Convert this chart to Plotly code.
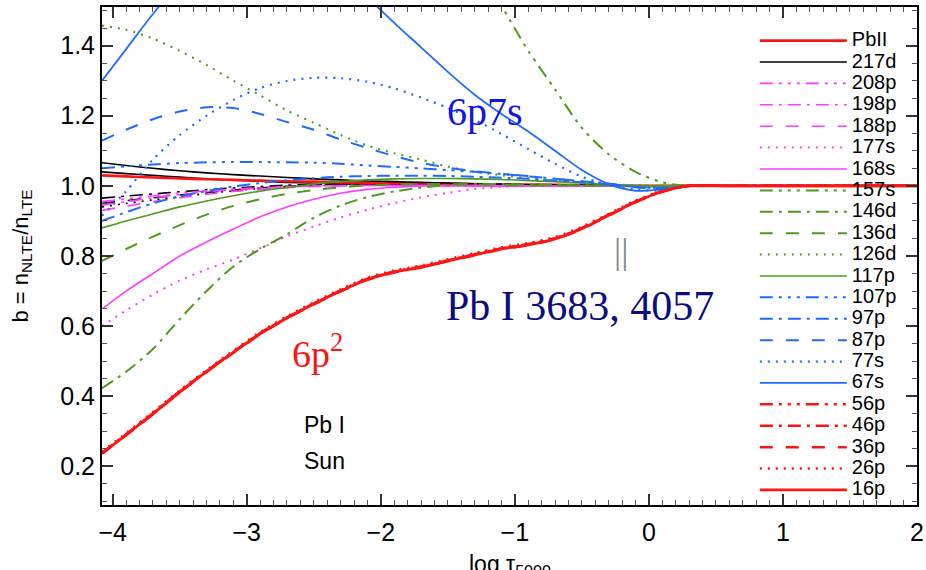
import plotly.graph_objects as go

# log tau grid
X = [-4.08, -3.9, -3.7, -3.5, -3.3, -3.1, -2.9, -2.7, -2.5, -2.3, -2.1, -1.9, -1.7,
     -1.5, -1.3, -1.1, -0.9, -0.7, -0.5, -0.3, -0.1, 0.1, 0.3, 0.6, 1.0, 2.0]

b_PbII = [1.030, 1.027, 1.024, 1.021, 1.019, 1.017, 1.015, 1.013, 1.012, 1.010, 1.009, 1.008, 1.007,
          1.006, 1.005, 1.004, 1.003, 1.003, 1.002, 1.001, 1.000, 1.000, 1.000, 1.000, 1.000, 1.000]
b_217d = [1.066, 1.058, 1.050, 1.043, 1.037, 1.032, 1.028, 1.024, 1.020, 1.017, 1.014, 1.012, 1.010,
          1.008, 1.006, 1.005, 1.004, 1.003, 1.002, 1.001, 1.000, 1.000, 1.000, 1.000, 1.000, 1.000]
b_208p = [0.955, 0.963, 0.972, 0.980, 0.986, 0.991, 0.995, 0.998, 1.000, 1.001, 1.001, 1.001, 1.001,
          1.001, 1.001, 1.000, 1.000, 1.000, 1.000, 1.000, 1.000, 1.000, 1.000, 1.000, 1.000, 1.000]
b_198p = [0.945, 0.955, 0.966, 0.975, 0.983, 0.989, 0.993, 0.997, 0.999, 1.000, 1.001, 1.001, 1.001,
          1.001, 1.000, 1.000, 1.000, 1.000, 1.000, 1.000, 1.000, 1.000, 1.000, 1.000, 1.000, 1.000]
b_188p = [0.930, 0.942, 0.955, 0.966, 0.976, 0.984, 0.990, 0.995, 0.998, 1.000, 1.001, 1.001, 1.001,
          1.000, 1.000, 1.000, 1.000, 1.000, 1.000, 1.000, 1.000, 1.000, 1.000, 1.000, 1.000, 1.000]
b_177s = [0.600, 0.645, 0.690, 0.730, 0.762, 0.790, 0.822, 0.856, 0.884, 0.910, 0.932, 0.951, 0.967,
          0.980, 0.991, 0.997, 1.000, 1.000, 1.000, 1.000, 1.000, 1.000, 1.000, 1.000, 1.000, 1.000]
b_168s = [0.649, 0.700, 0.750, 0.800, 0.840, 0.877, 0.912, 0.940, 0.962, 0.979, 0.990, 0.996, 1.000,
          1.000, 1.000, 1.000, 1.000, 1.000, 1.000, 1.000, 1.000, 1.000, 1.000, 1.000, 1.000, 1.000]
b_157s = [None, None, None, None, None, None, None, None, None, None, None, None, 2.050,
          1.830, 1.660, 1.515, 1.385, 1.275, 1.165, 1.090, 1.040, 1.010, 1.000, 1.000, 1.000, 1.000]
b_146d = [0.423, 0.470, 0.535, 0.620, 0.700, 0.770, 0.820, 0.862, 0.909, 0.944, 0.968, 0.984, 0.995,
          1.002, 1.005, 1.005, 1.004, 1.003, 1.002, 1.001, 1.000, 1.000, 1.000, 1.000, 1.000, 1.000]
b_136d = [0.786, 0.820, 0.855, 0.888, 0.918, 0.943, 0.962, 0.977, 0.988, 0.996, 1.001, 1.004, 1.005,
          1.005, 1.004, 1.003, 1.002, 1.002, 1.001, 1.000, 1.000, 1.000, 1.000, 1.000, 1.000, 1.000]
b_126d = [1.457, 1.445, 1.420, 1.385, 1.345, 1.300, 1.258, 1.215, 1.180, 1.145, 1.115, 1.093, 1.075,
          1.055, 1.040, 1.030, 1.022, 1.015, 1.010, 1.005, 1.002, 1.000, 1.000, 1.000, 1.000, 1.000]
b_117p = [0.880, 0.900, 0.920, 0.940, 0.957, 0.972, 0.985, 0.995, 1.005, 1.012, 1.017, 1.020, 1.021,
          1.021, 1.020, 1.018, 1.015, 1.012, 1.008, 1.004, 1.000, 0.998, 1.000, 1.000, 1.000, 1.000]
b_107p = [1.050, 1.056, 1.061, 1.065, 1.067, 1.068, 1.068, 1.067, 1.066, 1.063, 1.058, 1.054, 1.050,
          1.045, 1.040, 1.034, 1.028, 1.020, 1.013, 1.006, 0.998, 0.994, 1.000, 1.000, 1.000, 1.000]
b_97p = [0.900, 0.925, 0.950, 0.970, 0.985, 0.998, 1.008, 1.016, 1.022, 1.026, 1.028, 1.029, 1.029,
         1.028, 1.026, 1.023, 1.020, 1.015, 1.010, 1.004, 0.997, 0.993, 1.000, 1.000, 1.000, 1.000]
b_87p = [1.129, 1.160, 1.190, 1.212, 1.224, 1.222, 1.205, 1.182, 1.160, 1.132, 1.108, 1.085, 1.066,
         1.052, 1.042, 1.034, 1.027, 1.020, 1.013, 1.006, 0.996, 0.990, 1.000, 1.000, 1.000, 1.000]
b_77s = [0.915, 0.985, 1.075, 1.145, 1.200, 1.245, 1.279, 1.299, 1.308, 1.307, 1.297, 1.278, 1.252,
         1.222, 1.188, 1.148, 1.105, 1.063, 1.026, 1.003, 0.990, 0.987, 1.000, 1.000, 1.000, 1.000]
b_67s = [1.300, 1.390, 1.490, 1.580, 1.660, 1.720, 1.760, 1.770, 1.740, 1.650, 1.540, 1.465, 1.395,
         1.325, 1.260, 1.205, 1.155, 1.100, 1.045, 1.005, 0.986, 0.990, 1.000, 1.000, 1.000, 1.000]
b_56p = [0.238, 0.291, 0.351, 0.413, 0.471, 0.526, 0.579, 0.624, 0.664, 0.701, 0.734, 0.755, 0.769,
         0.787, 0.804, 0.821, 0.833, 0.850, 0.879, 0.917, 0.955, 0.984, 1.000, 1.000, 1.000, 1.000]
b_46p = [0.239, 0.292, 0.352, 0.414, 0.472, 0.527, 0.580, 0.625, 0.665, 0.702, 0.735, 0.756, 0.770,
         0.788, 0.805, 0.822, 0.834, 0.851, 0.880, 0.918, 0.956, 0.985, 1.000, 1.000, 1.000, 1.000]
b_36p = [0.236, 0.289, 0.349, 0.411, 0.469, 0.524, 0.577, 0.622, 0.662, 0.699, 0.732, 0.753, 0.767,
         0.785, 0.802, 0.819, 0.831, 0.848, 0.877, 0.915, 0.953, 0.983, 1.000, 1.000, 1.000, 1.000]
b_26p = [0.242, 0.295, 0.355, 0.417, 0.475, 0.530, 0.583, 0.628, 0.668, 0.705, 0.738, 0.759, 0.773,
         0.791, 0.808, 0.825, 0.837, 0.854, 0.883, 0.920, 0.958, 0.986, 1.000, 1.000, 1.000, 1.000]
b_16p = [0.237, 0.290, 0.350, 0.412, 0.470, 0.525, 0.578, 0.623, 0.663, 0.700, 0.733, 0.754, 0.768,
         0.786, 0.803, 0.820, 0.832, 0.849, 0.878, 0.916, 0.954, 0.984, 1.000, 1.000, 1.000, 1.000]

# higher levels drawn in black without legend entries
b_hi1 = [1.040, 1.035, 1.030, 1.025, 1.020, 1.016, 1.013, 1.010, 1.008, 1.006, 1.005, 1.004, 1.003,
         1.002, 1.002, 1.001, 1.001, 1.000, 1.000, 1.000, 1.000, 1.000, 1.000, 1.000, 1.000, 1.000]
b_hi2 = [0.950, 0.958, 0.966, 0.974, 0.981, 0.988, 0.994, 0.999, 1.003, 1.005, 1.006, 1.006, 1.005,
         1.004, 1.003, 1.002, 1.001, 1.000, 1.000, 1.000, 1.000, 1.000, 1.000, 1.000, 1.000, 1.000]
b_hi3 = [0.965, 0.971, 0.977, 0.983, 0.989, 0.994, 0.998, 1.002, 1.004, 1.005, 1.005, 1.004, 1.003,
         1.002, 1.001, 1.001, 1.000, 1.000, 1.000, 1.000, 1.000, 1.000, 1.000, 1.000, 1.000, 1.000]
b_hi4 = [0.940, 0.950, 0.960, 0.969, 0.978, 0.986, 0.993, 0.998, 1.002, 1.004, 1.005, 1.005, 1.004,
         1.003, 1.002, 1.001, 1.000, 1.000, 1.000, 1.000, 1.000, 1.000, 1.000, 1.000, 1.000, 1.000]

names = ["PbII", "217d", "208p", "198p", "188p", "177s", "168s", "157s", "146d", "136d", "126d",
         "117p", "107p", "97p", "87p", "77s", "67s", "56p", "46p", "36p", "26p", "16p"]
series = [b_PbII, b_217d, b_208p, b_198p, b_188p, b_177s, b_168s, b_157s, b_146d, b_136d, b_126d,
          b_117p, b_107p, b_97p, b_87p, b_77s, b_67s, b_56p, b_46p, b_36p, b_26p, b_16p]

RED, BLACK, MAG, GRN, BLU = "#ff1414", "#000000", "#ff3cff", "#4f9a1c", "#1f6bff"
SOLID = "solid"
DOT = "2px,6px"
DASH = "13px,13px"
DASHDOT = "13px,6px,3px,6px"
DASH3DOT = "13px,6px,3px,6px,3px,6px,3px,6px"

colors = [RED, BLACK, MAG, MAG, MAG, MAG, MAG, GRN, GRN, GRN, GRN, GRN,
          BLU, BLU, BLU, BLU, BLU, RED, RED, RED, RED, RED]
dashes = [SOLID, SOLID, DASH3DOT, DASHDOT, DASH, DOT, SOLID, DASH3DOT, DASHDOT, DASH, DOT, SOLID,
          DASH3DOT, DASHDOT, DASH, DOT, SOLID, DASH3DOT, DASHDOT, DASH, DOT, SOLID]
widths = [2.6, 1.6, 1.6, 1.6, 1.6, 2, 1.6, 2, 2, 2, 2, 1.6,
          2, 2, 2, 2.2, 1.8, 2.5, 2.5, 2.5, 2.5, 2.8]

fig = go.Figure()

for yy, d in zip([b_hi1, b_hi2, b_hi3, b_hi4], [SOLID, DASH, DASHDOT, DOT]):
    fig.add_trace(go.Scatter(x=X, y=yy, mode="lines", showlegend=False, hoverinfo="skip",
                             line=dict(color=BLACK, width=1.6, dash=d, shape="spline", smoothing=0.8)))

for i in range(len(names)):
    fig.add_trace(go.Scatter(
        x=X, y=series[i], mode="lines",
        name='<span style="font-size:20px">%s</span>' % names[i],
        legendrank=i + 1,
        line=dict(color=colors[i], width=widths[i], dash=dashes[i], shape="spline", smoothing=0.8),
    ))

sans = "Liberation Sans, Arial"
serif = "Liberation Serif, Times New Roman, serif"

axis_common = dict(
    showline=True, linecolor="black", linewidth=2, mirror="allticks",
    ticks="inside", ticklen=11, tickwidth=1.5, tickcolor="#333",
    showgrid=False, zeroline=False, automargin=False,
    tickfont=dict(family=sans, size=25, color="black"),
)

fig.update_xaxes(range=[-4.08, 2.0], tickvals=[-4, -3, -2, -1, 0, 1, 2],
                 minor=dict(dtick=0.1, tick0=0, ticks="inside", ticklen=5, tickcolor="#555", tickwidth=1),
                 ticklabelstandoff=4,
                 **axis_common)
fig.update_yaxes(range=[0.09, 1.51], tickvals=[0.2, 0.4, 0.6, 0.8, 1.0, 1.2, 1.4],
                 ticktext=["0.2", "0.4", "0.6", "0.8", "1.0", "1.2", "1.4"],
                 minor=dict(dtick=0.05, tick0=0, ticks="inside", ticklen=5, tickcolor="#555", tickwidth=1),
                 title=dict(text="b = n<sub>NLTE</sub>/n<sub>LTE</sub>", standoff=26,
                            font=dict(family=sans, size=22, color="black")),
                 **axis_common)

annots = [
    dict(text="6p7s", x=0.47, y=0.79, font=dict(family=serif, size=40, color="#1414e6")),
    dict(text="6p<sup>2</sup>", x=0.264, y=0.31, font=dict(family=serif, size=38, color="#ff1414")),
    dict(text="Pb I 3683, 4057", x=0.587, y=0.40, font=dict(family=serif, size=42, color="#0c0c80"),
         bgcolor="white", borderpad=4),
    dict(text="||", x=0.637, y=0.51, font=dict(family=serif, size=36, color="#8a8a8a")),
    dict(text="Pb I", x=0.245, y=0.16, xanchor="left", font=dict(family=sans, size=23, color="black")),
    dict(text="Sun", x=0.245, y=0.088, xanchor="left", font=dict(family=sans, size=23, color="black")),
    # x-axis title (partly cut by the bottom edge, as in the original)
    dict(text="log τ<sub>5000</sub>", x=0.5, y=-0.122, font=dict(family=sans, size=23, color="black")),
]
for a in annots:
    a.setdefault("xanchor", "center")
    fig.add_annotation(xref="paper", yref="paper", showarrow=False, yanchor="middle", **a)

fig.update_layout(
    width=926, height=570,
    margin=dict(l=102, r=9, t=7, b=65),
    plot_bgcolor="white", paper_bgcolor="white",
    showlegend=True,
    legend=dict(x=0.801, y=0.964, xanchor="left", yanchor="top", bgcolor="rgba(0,0,0,0)",
                font=dict(family=sans, size=14.15, color="black"),
                itemwidth=87, tracegroupgap=0),
)

fig.write_html("out.html")
